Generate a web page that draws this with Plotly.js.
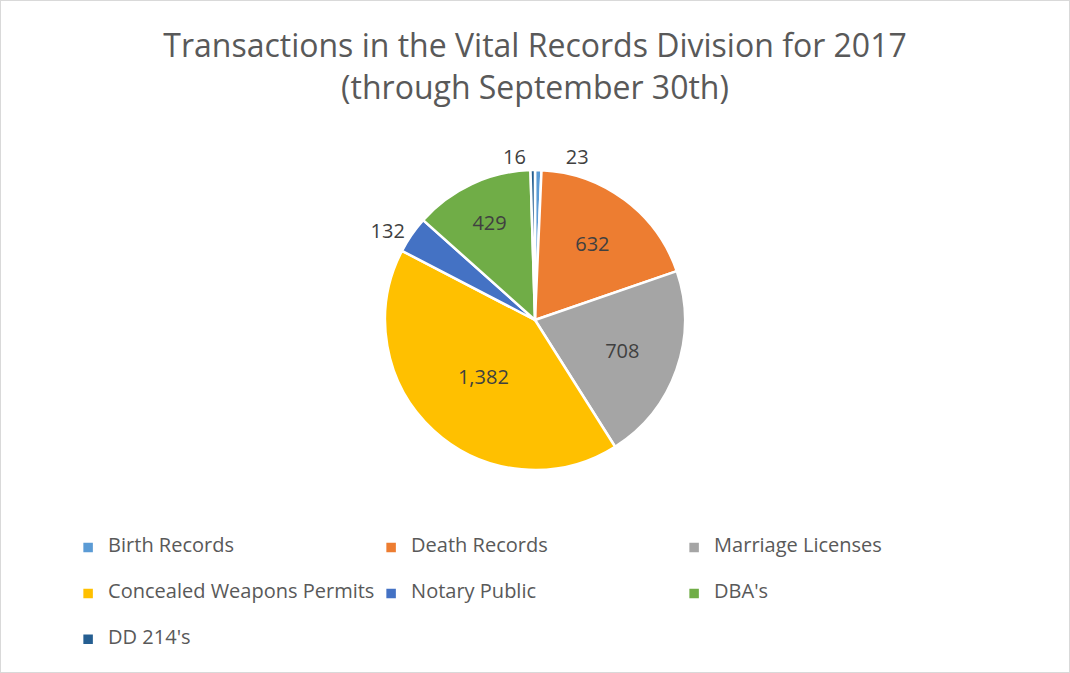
<!DOCTYPE html>
<html>
<head>
<meta charset="utf-8">
<script src="https://cdn.plot.ly/plotly-3.0.1.min.js"></script>
<style>
  html, body { margin: 0; padding: 0; background: #fff; }
  #chart { width: 1070px; height: 673px; box-sizing: border-box; border: 1px solid #d9d9d9; }
</style>
</head>
<body>
<div id="chart"></div>
<script>
// Vital Records transactions, Jan - Sep 2017
const categories = ['Birth Records', 'Death Records', 'Marriage Licenses',
  'Concealed Weapons Permits', 'Notary Public', "DBA's", "DD 214's"];
const counts = [23, 632, 708, 1382, 132, 429, 16];
const sliceColors = ['#5B9BD5', '#ED7D31', '#A5A5A5', '#FFC000', '#4472C4', '#70AD47', '#255E91'];
const labelPos = ['outside', 'inside', 'inside', 'inside', 'outside', 'inside', 'outside'];

const FONT = 'Open Sans, Noto Sans, sans-serif';
const NB = '&nbsp;';

// pad legend labels with blank lines so rows sit further apart
const legendLabels = categories.map(c => ` <br><span style="font-size:20px">${c}</span><br> `);

// the two tiny slices at the top share a spot, nudge the right one over
const templates = counts.map(() => '%{value:,}');
templates[0] = NB.repeat(4) + '%{value:,}';

Plotly.newPlot('chart', [{
  type: 'pie',
  labels: legendLabels,
  values: counts,
  sort: false,
  direction: 'clockwise',
  rotation: 0,
  marker: { colors: sliceColors, line: { color: '#ffffff', width: 2.5 } },
  texttemplate: templates,
  textposition: labelPos,
  insidetextorientation: 'horizontal',
  textfont: { family: FONT, size: 20, color: '#404040' },
  hoverinfo: 'value+percent',
  domain: { x: [0, 1], y: [0.3011, 0.7481] },
}], {
  width: 1068,
  height: 671,
  paper_bgcolor: '#ffffff',
  font: { family: FONT, color: '#595959' },
  title: {
    text: 'Transactions in the Vital Records Division for 2017<br>(through September 30th)',
    font: { family: FONT, size: 32, color: '#595959' },
    x: 0.5, xanchor: 'center',
    y: 0.9158, yanchor: 'middle',
  },
  margin: { t: 0, b: 0, l: 60, r: 60 },
  showlegend: true,
  legend: {
    orientation: 'h',
    x: 0.0075, xanchor: 'left',
    y: 0.2271, yanchor: 'top',
    entrywidth: 258,
    font: { family: FONT, size: 11, color: '#595959' },
  },
}, { displayModeBar: false, responsive: false });
</script>
</body>
</html>
